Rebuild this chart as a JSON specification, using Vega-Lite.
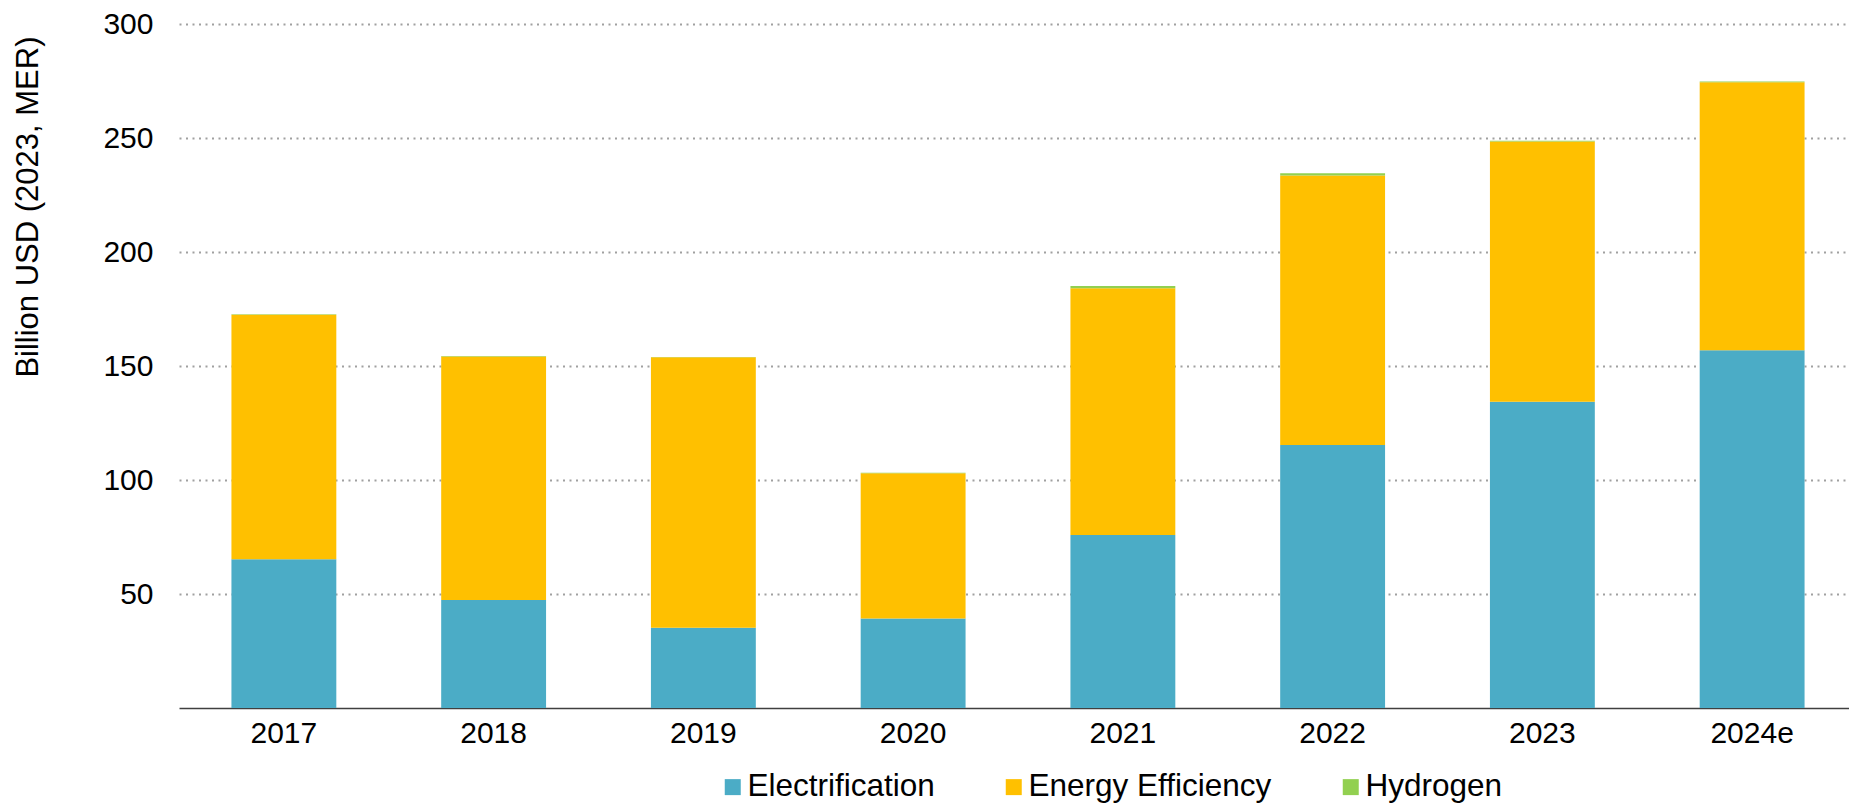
{
  "$schema": "https://vega.github.io/schema/vega-lite/v6.json",
  "width": 1670,
  "height": 684,
  "autosize": "none",
  "padding": {"left": 179, "top": 24, "right": 0, "bottom": 97},
  "background": "white",
  "config": {
    "font": "Liberation Sans",
    "view": {"stroke": null}
  },
  "data": {
    "values": [
      {"year": "2017", "type": "Electrification", "value": 65.2},
      {"year": "2017", "type": "Energy Efficiency", "value": 107.3},
      {"year": "2017", "type": "Hydrogen", "value": 0.2},
      {"year": "2018", "type": "Electrification", "value": 47.4},
      {"year": "2018", "type": "Energy Efficiency", "value": 106.8},
      {"year": "2018", "type": "Hydrogen", "value": 0.2},
      {"year": "2019", "type": "Electrification", "value": 35.2},
      {"year": "2019", "type": "Energy Efficiency", "value": 118.6},
      {"year": "2019", "type": "Hydrogen", "value": 0.2},
      {"year": "2020", "type": "Electrification", "value": 39.3},
      {"year": "2020", "type": "Energy Efficiency", "value": 63.7},
      {"year": "2020", "type": "Hydrogen", "value": 0.2},
      {"year": "2021", "type": "Electrification", "value": 75.9},
      {"year": "2021", "type": "Energy Efficiency", "value": 108.2},
      {"year": "2021", "type": "Hydrogen", "value": 1.0},
      {"year": "2022", "type": "Electrification", "value": 115.4},
      {"year": "2022", "type": "Energy Efficiency", "value": 118.2},
      {"year": "2022", "type": "Hydrogen", "value": 0.9},
      {"year": "2023", "type": "Electrification", "value": 134.3},
      {"year": "2023", "type": "Energy Efficiency", "value": 114.2},
      {"year": "2023", "type": "Hydrogen", "value": 0.3},
      {"year": "2024e", "type": "Electrification", "value": 156.9},
      {"year": "2024e", "type": "Energy Efficiency", "value": 117.6},
      {"year": "2024e", "type": "Hydrogen", "value": 0.3}
    ]
  },
  "mark": {"type": "bar"},
  "encoding": {
    "x": {
      "field": "year",
      "type": "nominal",
      "sort": null,
      "scale": {"paddingInner": 0.5, "paddingOuter": 0.25, "range": [0, 1678]},
      "axis": {
        "title": null,
        "labelAngle": 0,
        "labelFontSize": 30,
        "labelColor": "#000000",
        "labelPadding": 10,
        "ticks": false,
        "domainColor": "#404040",
        "domainWidth": 1.5,
        "grid": false
      }
    },
    "y": {
      "field": "value",
      "type": "quantitative",
      "stack": "zero",
      "scale": {"domain": [0, 300], "nice": false},
      "axis": {
        "title": "Billion USD (2023, MER)",
        "titleFontSize": 31,
        "titleFontWeight": "normal",
        "titleColor": "#000000",
        "titleAnchor": "end",
        "titleY": 12,
        "titlePadding": 58,
        "values": [50, 100, 150, 200, 250, 300],
        "labelFontSize": 30,
        "labelColor": "#000000",
        "labelPadding": 26,
        "ticks": false,
        "domain": false,
        "grid": true,
        "gridColor": "#a0a0a0",
        "gridWidth": 2,
        "gridDash": [2, 4.5]
      }
    },
    "order": {"field": "type", "sort": "ascending"},
    "color": {
      "field": "type",
      "type": "nominal",
      "scale": {
        "domain": ["Electrification", "Energy Efficiency", "Hydrogen"],
        "range": ["#4BACC6", "#FFC000", "#92D050"]
      },
      "legend": {
        "title": null,
        "orient": "none",
        "direction": "horizontal",
        "legendX": 538,
        "legendY": 747,
        "padding": 0,
        "symbolType": "square",
        "symbolSize": 256,
        "symbolStrokeWidth": 0,
        "labelFontSize": 31.5,
        "labelLimit": 400,
        "labelColor": "#000000",
        "labelOffset": -1,
        "columnPadding": 63
      }
    }
  }
}
